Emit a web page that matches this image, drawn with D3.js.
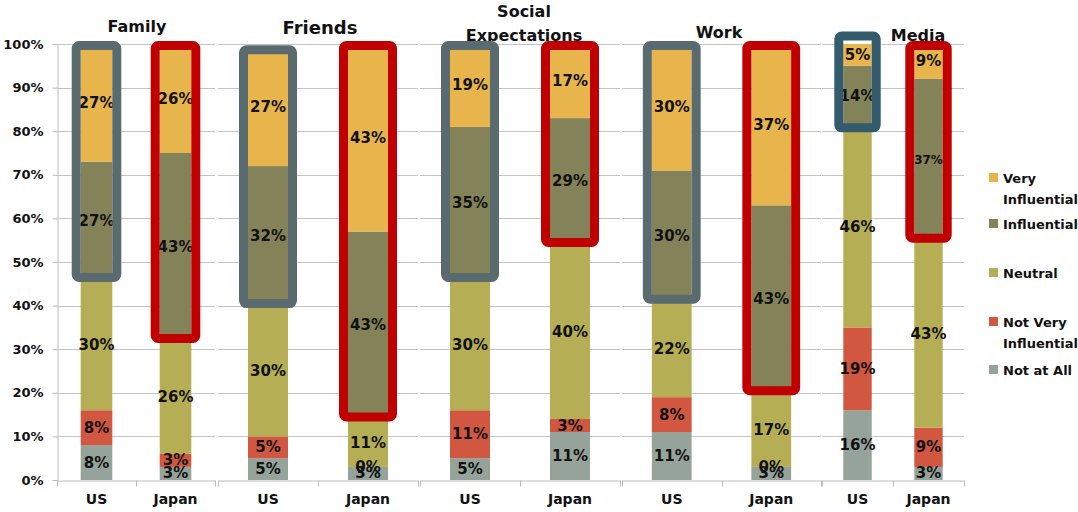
<!DOCTYPE html>
<html>
<head>
<meta charset="utf-8">
<script src="https://cdn.jsdelivr.net/npm/d3@7"></script>
<style>
  body { margin: 0; background: #fff; }
  svg { display: block; }
  text { font-family: "DejaVu Sans", sans-serif; font-weight: bold; fill: #111; }
</style>
</head>
<body>
<svg id="chart" width="1078" height="512"></svg>
<script>
// ---- data -------------------------------------------------------------
const topics = ["Family", "Friends", "Social Expectations", "Work", "Media"];
const countries = ["US", "Japan"];
const levels = ["Not at All", "Not Very Influential", "Neutral", "Influential", "Very Influential"];

// one value per bar: Family US, Family Japan, Friends US, Friends Japan, ...
const notAtAll           = [8, 3, 5, 3, 5, 11, 11, 3, 16, 3];
const notVeryInfluential = [8, 3, 5, 0, 11, 3, 8, 0, 19, 9];
const neutral            = [30, 26, 30, 11, 30, 40, 22, 17, 46, 43];
const influential        = [27, 43, 32, 43, 35, 29, 30, 43, 14, 37];
const veryInfluential    = [27, 26, 27, 43, 19, 17, 30, 37, 5, 9];

const yTicks = [0, 10, 20, 30, 40, 50, 60, 70, 80, 90, 100];

// ---- styling / layout -------------------------------------------------
const colors = {
  "Not at All": "#95A39A",
  "Not Very Influential": "#D25740",
  "Neutral": "#B5AE55",
  "Influential": "#848258",
  "Very Influential": "#E8B44C"
};
const legendItems = [
  { key: "Very Influential", lines: ["Very", "Influential"], y: 173 },
  { key: "Influential", lines: ["Influential"], y: 219 },
  { key: "Neutral", lines: ["Neutral"], y: 268 },
  { key: "Not Very Influential", lines: ["Not Very", "Influential"], y: 317 },
  { key: "Not at All", lines: ["Not at All"], y: 365 }
];

// each topic is its own small panel with its own band scale
const panels = [
  { x0: 57,  x1: 215, titleX: 137, titleY: 32, size: 16, lines: ["Family"] },
  { x0: 218, x1: 418, titleX: 320, titleY: 34, size: 18, lines: ["Friends"] },
  { x0: 420, x1: 620, titleX: 524, titleY: 17, size: 16, lines: ["Social", "Expectations"] },
  { x0: 622, x1: 821, titleX: 719, titleY: 38, size: 16, lines: ["Work"] },
  { x0: 822, x1: 964, titleX: 918, titleY: 41, size: 16, lines: ["Media"] }
];

// highlight frames around the "influential" part of each bar
const frameStyle = {
  US:    { stroke: "#5A6B70", top: 1.5, bottom: -2 },
  Japan: { stroke: "#C00000", top: 1.5, bottom: -2 }
};
const frameOverride = { "Media|US": { stroke: "#335B6B", top: -8, bottom: 1 } };

const smallLabel = { "Media|Japan|Influential": 12 };

// ---- build rows -------------------------------------------------------
const series = [notAtAll, notVeryInfluential, neutral, influential, veryInfluential];
const rows = [];
topics.forEach((t, ti) => {
  countries.forEach((c, ci) => {
    const i = ti * countries.length + ci;
    const row = { topic: t, country: c, ti };
    levels.forEach((lv, li) => { row[lv] = series[li][i]; });
    rows.push(row);
  });
});
const stacked = d3.stack().keys(levels)(rows);

// ---- drawing ----------------------------------------------------------
const svg = d3.select("#chart");
const y = d3.scaleLinear().domain([0, 100]).range([480, 44]).clamp(true);

// titles (sit behind the plot areas)
panels.forEach(p => {
  const t = svg.append("text")
    .attr("x", p.titleX).attr("y", p.titleY)
    .attr("text-anchor", "middle")
    .style("font-size", p.size + "px");
  p.lines.forEach((ln, k) => {
    t.append("tspan").attr("x", p.titleX).attr("dy", k === 0 ? 0 : 24).text(ln);
  });
});

// plot-area backgrounds
panels.forEach(p => {
  svg.append("rect").attr("x", p.x0).attr("y", 42)
    .attr("width", p.x1 - p.x0).attr("height", 438).attr("fill", "#fff");
});

const xScales = panels.map(p => d3.scaleBand().domain(countries)
  .range([p.x0, p.x1]).paddingInner(0.6).paddingOuter(0.3));

// gridlines
panels.forEach(p => {
  svg.append("g").selectAll("line").data(yTicks.filter(d => d > 0)).join("line")
    .attr("x1", p.x0).attr("x2", p.x1)
    .attr("y1", d => Math.round(y(d)) + 0.5).attr("y2", d => Math.round(y(d)) + 0.5)
    .attr("stroke", "#C4C4C4").attr("stroke-width", 1);
});

// y axis
const yAxis = svg.append("g").attr("transform", "translate(57.5,0)")
  .call(d3.axisLeft(y).tickValues(yTicks).tickFormat(d => d + "%").tickSize(5).tickPadding(9));
yAxis.select(".domain").attr("stroke", "#BDBDBD");
yAxis.selectAll(".tick line").attr("stroke", "#BDBDBD");
yAxis.selectAll(".tick text").style("font-size", "13px").style("font-family", "DejaVu Sans")
  .style("font-weight", "bold").attr("fill", "#111");

// x axes, one per panel
panels.forEach((p, pi) => {
  const g = svg.append("g").attr("transform", "translate(0,480.5)")
    .call(d3.axisBottom(xScales[pi]).tickSize(0).tickPadding(14));
  g.select(".domain").attr("stroke", "#BDBDBD");
  g.selectAll(".tick text").style("font-size", "14px").style("font-family", "DejaVu Sans")
    .style("font-weight", "bold").attr("fill", "#111");
  const bounds = [p.x0, (p.x0 + p.x1) / 2, p.x1];
  g.selectAll("line.sep").data(bounds).join("line").attr("class", "sep")
    .attr("x1", d => Math.round(d) + 0.5).attr("x2", d => Math.round(d) + 0.5)
    .attr("y1", 0).attr("y2", 6).attr("stroke", "#BDBDBD");
});

// bars
const barX = d => xScales[d.data.ti](d.data.country);
const barW = d => xScales[d.data.ti].bandwidth();
stacked.forEach(layer => {
  svg.append("g").selectAll("rect").data(layer).join("rect")
    .attr("x", barX).attr("width", barW)
    .attr("y", d => y(d[1])).attr("height", d => y(d[0]) - y(d[1]))
    .attr("fill", colors[layer.key]);
});

// value labels
stacked.forEach(layer => {
  svg.append("g").selectAll("text").data(layer).join("text")
    .attr("x", d => barX(d) + barW(d) / 2)
    .attr("y", d => (y(d[0]) + y(d[1])) / 2)
    .attr("text-anchor", "middle")
    .attr("dominant-baseline", "central")
    .style("font-size", d => (smallLabel[d.data.topic + "|" + d.data.country + "|" + layer.key] || 15) + "px")
    .text(d => d.data[layer.key] + "%");
});

// highlight frames
const inflLayer = stacked.find(s => s.key === "Influential");
const topLayer = stacked.find(s => s.key === "Very Influential");
svg.append("g").selectAll("rect").data(inflLayer).join("rect")
  .each(function (d, i) {
    const st = frameOverride[d.data.topic + "|" + d.data.country] || frameStyle[d.data.country];
    const yTop = y(topLayer[i][1]) + st.top;
    const yBot = y(d[0]) + st.bottom;
    d3.select(this)
      .attr("x", barX(d) - 4.5).attr("width", barW(d) + 9)
      .attr("y", yTop).attr("height", yBot - yTop)
      .attr("rx", 3).attr("fill", "none")
      .attr("stroke", st.stroke).attr("stroke-width", 9);
  });

// legend
const lg = svg.append("g");
legendItems.forEach(item => {
  lg.append("rect").attr("x", 989).attr("y", item.y).attr("width", 9).attr("height", 9)
    .attr("fill", colors[item.key]);
  const t = lg.append("text").attr("x", 1003).attr("y", item.y + 10).style("font-size", "13px");
  item.lines.forEach((ln, k) => t.append("tspan").attr("x", 1003).attr("dy", k === 0 ? 0 : 21).text(ln));
});
</script>
</body>
</html>
